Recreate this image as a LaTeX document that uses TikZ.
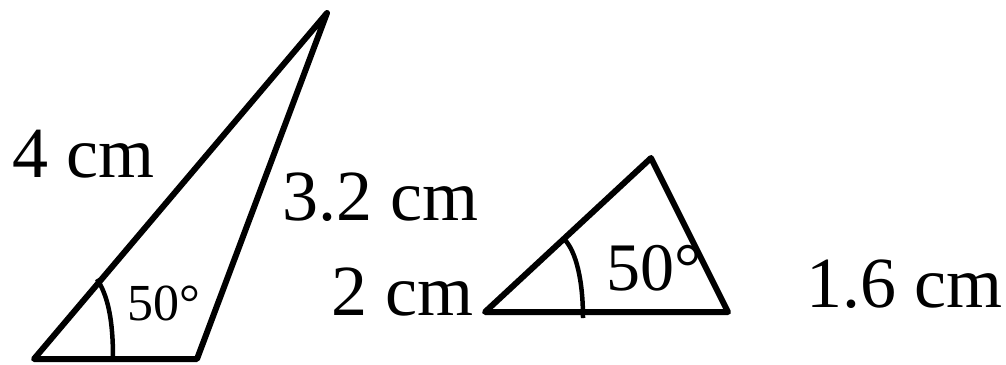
\documentclass[tikz,border=0pt]{standalone}
\usepackage{fontspec}
\setmainfont{Liberation Serif}
\begin{document}
\begin{tikzpicture}[x=1pt,y=-1pt,
  edge/.style={line width=6pt,line join=round,line cap=round},
  arcline/.style={line width=4.5pt},
  biglbl/.style={inner sep=0pt,anchor=base west,font=\fontsize{72}{80}\selectfont},
  smalllbl/.style={inner sep=0pt,anchor=base west,font=\fontsize{52}{60}\selectfont}]
\useasboundingbox (0,0) rectangle (1006,364);
% triangle 1
\coordinate (A1) at (34,359);
\coordinate (B1) at (197,359);
\coordinate (C1) at (327,13);
\draw[edge] (A1) -- (B1) -- (C1) -- cycle;
\draw[arcline] (97,279) .. controls (108,296) and (113,320) .. (113,358);
% triangle 2
\coordinate (A2) at (485,312);
\coordinate (B2) at (728,312);
\coordinate (C2) at (651,158);
\draw[edge] (A2) -- (B2) -- (C2) -- cycle;
\draw[arcline] (565,240) .. controls (576,252) and (583,280) .. (583,318);
% labels
\node[biglbl] (l4) at (12,177) {4 cm};
\node[biglbl] (l32) at (282,220) {3.2 cm};
\node[smalllbl] (a1) at (127,320) {50°};
\node[biglbl] (l2) at (331,315) {2 cm};
\node[biglbl,font=\fontsize{68}{76}\selectfont] (a2) at (606,290) {50°};
\node[biglbl] (l16) at (806,307) {1.6 cm};
\end{tikzpicture}
\end{document}
